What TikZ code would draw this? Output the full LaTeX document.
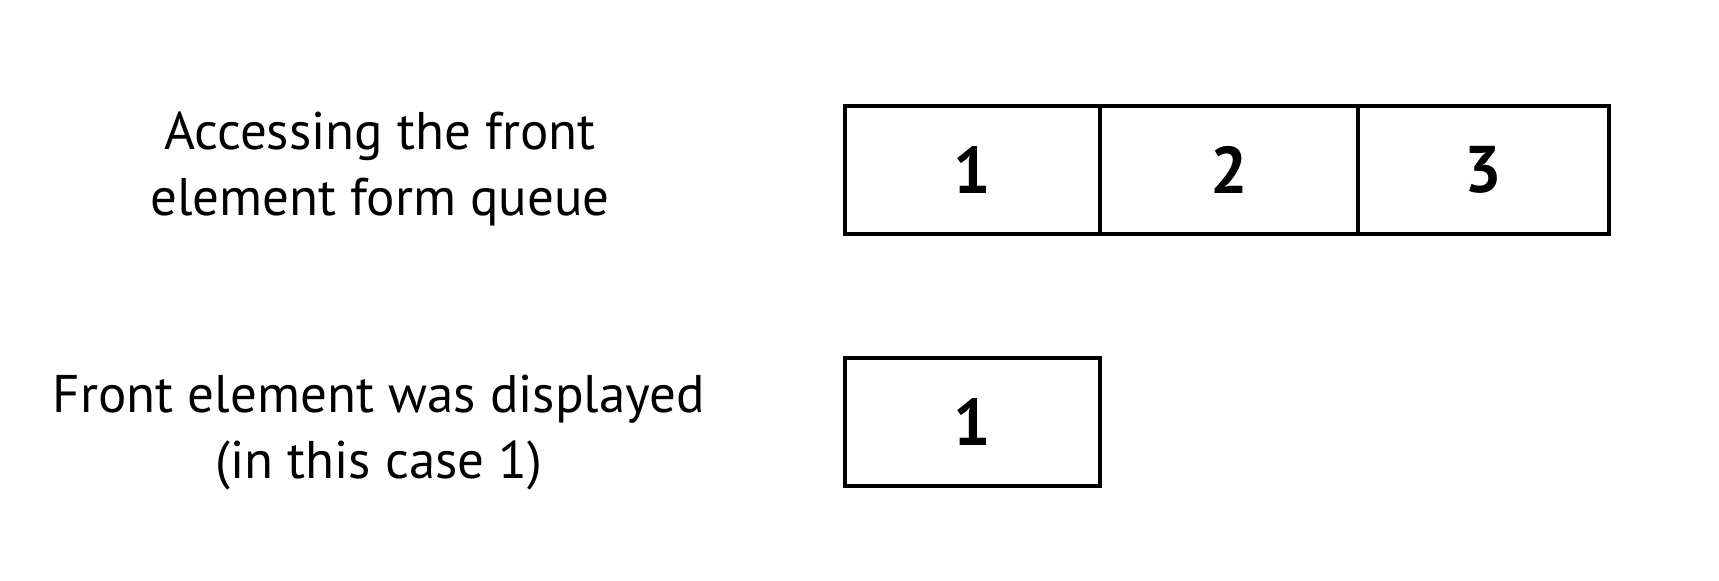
\documentclass[tikz,border=0pt]{standalone}
\usepackage{fontspec}
\setmainfont{PT Sans}
\begin{document}
\begin{tikzpicture}[x=0.5pt,y=-0.5pt,
  cell/.style={draw=black,line width=1.9pt,minimum width=127.5pt,minimum height=64pt,inner sep=0pt,font=\fontsize{33}{36}\selectfont\bfseries},
  label/.style={align=center,inner sep=0pt,font=\fontsize{26.5}{33}\selectfont}]
\useasboundingbox (0,0) rectangle (1719,581);
\node[cell] (c1) at (972.5,170) {1};
\node[cell,minimum width=129pt] (c2) at (1229,170) {2};
\node[cell,minimum width=125.5pt] (c3) at (1483.5,170) {3};
\node[cell] (d1) at (972.5,422) {1};
\node[label] (t1) at (380,169) {Accessing the front\\element form queue};
\node[label] (t2) at (379,433) {Front element was displayed\\(in this case 1)};
\end{tikzpicture}
\end{document}
